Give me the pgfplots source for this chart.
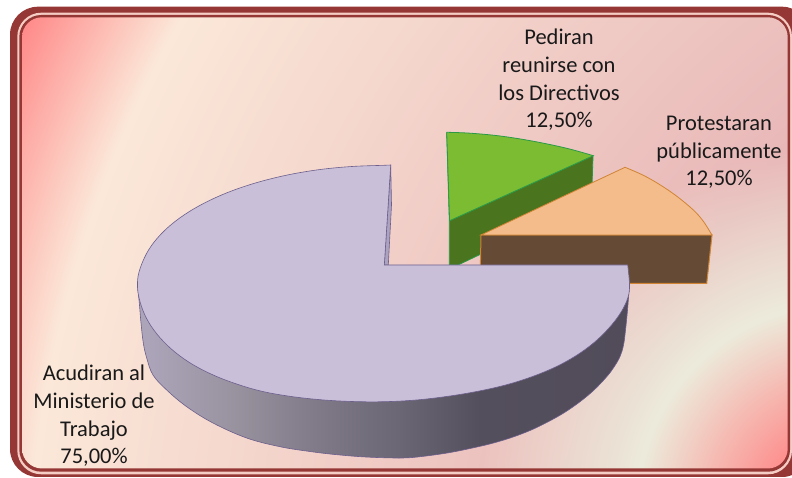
\documentclass[border=0pt]{standalone}
\usepackage{fontspec}
\setmainfont{Carlito}
\usepackage{pgfplots}
\pgfplotsset{compat=1.18}
\definecolor{framered}{HTML}{953735}
\definecolor{framelight}{HTML}{F6CDC4}
\definecolor{purpletop}{HTML}{C9BFD9}
\definecolor{purpleedge}{HTML}{6C5F8C}
\definecolor{purplein}{HTML}{ABA2C0}
\definecolor{greentop}{HTML}{7CBC32}
\definecolor{greenwall}{HTML}{4B741F}
\definecolor{greenedge}{HTML}{2A9A48}
\definecolor{orangetop}{HTML}{F5BC8B}
\definecolor{orangewall}{HTML}{654B36}
\definecolor{orangeedge}{HTML}{D08434}
\definecolor{wa}{HTML}{ACA5BA}
\definecolor{wb}{HTML}{99929F}
\definecolor{wc}{HTML}{7B7584}
\definecolor{wd}{HTML}{6B6774}
\definecolor{we}{HTML}{544F5C}
\definecolor{wf}{HTML}{524C5A}
\pgfdeclarehorizontalshading{wallshade}{100bp}{color(0bp)=(wa);color(26bp)=(wa);color(34.7bp)=(wb);color(44.9bp)=(wc);color(51.4bp)=(wd);color(59.8bp)=(we);color(75bp)=(wf);color(100bp)=(wf)}
\pgfdeclarefunctionalshading{bg}{\pgfpointorigin}{\pgfpoint{792bp}{478bp}}{}{
 2 copy
 -126 sub dup mul exch 1213 sub dup mul add sqrt
 3 1 roll
 -29 sub dup mul exch 840 sub dup mul add sqrt
 1 index 620 sub 567 div dup 0 lt {pop 0} if dup 1 gt {pop 1} if
 1 index 360 exch sub 157 div dup 0 lt {pop 0} if dup 1 gt {pop 1} if
 3 index 1187 sub 140 div dup 0 lt {pop 0} if dup 1 gt {pop 1} if
 3 index 203 exch sub 143 div dup 0 lt {pop 0} if dup 1 gt {pop 1} if
 6 4 roll pop pop
 3 index .075 mul 3 index .015 mul add 2 index .015 mul add 1 index .075 mul add .91 add
 4 index .19 mul 4 index .20 mul add 3 index -.38 mul add 2 index -.39 mul add .72 add
 5 index .13 mul 5 index .14 mul add 4 index -.32 mul add 3 index -.33 mul add .72 add
 7 3 roll pop pop pop pop
}
\begin{document}
\begin{tikzpicture}[x=1bp,y=1bp]
\useasboundingbox (0,0) rectangle (792,478);
\begin{scope}
\clip (0,0) rectangle (792,478);
\fill[framered,rounded corners=28bp] (10,1) rectangle (810,471.3);
\fill[framelight,rounded corners=24bp] (17.3,3.7) rectangle (792,465.3);
\fill[framered,rounded corners=22bp] (19.3,6.3) rectangle (790,463);
\begin{scope}
\clip[rounded corners=20bp] (22,9.5) rectangle (787.7,460.7);
\node[inner sep=0pt,outer sep=0pt,anchor=south west] at (0,0) {\pgfuseshading{bg}};
\end{scope}
\end{scope}
\begin{axis}[at={(0,0)},anchor=south west,width=792bp,height=478bp,scale only axis,
 xmin=0,xmax=792,ymin=0,ymax=478,y dir=reverse,hide axis,clip=true]
% green slice: wall, then top
\addplot[draw=greenedge,fill=greenwall,line width=.8bp,forget plot] coordinates {
 (446.7,132.3)(449.3,220.7)(593,155.7)(591.5,201)(480,254.5)(458,265)(449.3,265)(449.3,220.7)} -- cycle;
\addplot[smooth,tension=.6,draw=greenedge,fill=greentop,line width=.8bp,forget plot] coordinates {
 (446.7,132.3)(470,133.2)(500,136)(533,141.2)(566.7,148.3)(593.3,155.7)} -- (axis cs:449.6,220.7) -- cycle;
% orange slice
\addplot[draw=orangeedge,fill=orangewall,line width=1bp,forget plot] coordinates {
 (481,235)(712,235)(706.7,283.5)(480,283.5)} -- cycle;
\addplot[smooth,tension=.6,draw=orangeedge,fill=orangetop,line width=.8bp,forget plot] coordinates {
 (625,167.3)(643.3,175.3)(660,184.8)(676.7,196.2)(693.3,210)(703.3,221.3)(711.9,235)} -- (axis cs:481,235) -- cycle;
% purple slice: outer wall
\addplot[smooth,tension=.6,draw=purpleedge,shading=wallshade,line width=.6bp,forget plot] coordinates {
 (137.7,287)(139.3,303)(141,323)(143.3,343)(146.7,358)(153,375)(166.7,390)(186.7,406.7)(213,423)(246.7,438)(280,446.7)
 (310,451.5)(335,454.5)(366,457)(400,458)(420,456.7)(450,452.5)(480,446.3)(497,442)(513,437)(530,430.5)(546.7,422.5)(564,412.8)
 (580,401.7)(594,390)(606.7,376.7)(614,367)(620,356.5)(623.5,345)(625.5,330)(627.5,310)(629.3,287)} -- cycle;
% purple slice: inner wall of the gap
\addplot[draw=purpleedge,fill=purplein,line width=.6bp,forget plot] coordinates {
 (390.7,165)(391.5,205)(388.3,265)(384.3,265)} -- cycle;
% purple slice: top
\addplot[smooth,tension=.6,draw=purpleedge,fill=purpletop,line width=.6bp,forget plot] coordinates {
 (390.7,165)(384,165.3)(351.9,166.5)(320.3,169.5)(289.9,174.5)(261,181.4)(234.2,190)(210.1,200.2)(188.8,211.9)(171,224.75)(156.7,238.9)(146.4,253.8)(139,272)(137.5,287)
 (140.1,302)(146.4,318.2)(156.7,333.8)(171,348.75)(188.8,362.1)(210.1,373.6)(234.2,383.2)(261,391.1)(289.9,396.3)(320.3,399.7)(351.9,401.5)(384,401.7)(416.1,400)(447.7,396.3)(478.1,391.2)
 (507,384.6)(533.8,376)(557.9,365.8)(579.2,353.6)(597,340)(611.3,325.3)(621.6,311.2)(627.9,297.5)(629.5,285)(627.7,265)} -- (axis cs:384.3,265) -- cycle;
\end{axis}
\begin{scope}[every node/.style={inner sep=0pt,outer sep=0pt,align=center,text=black!90,font=\fontsize{22.5bp}{27.7bp}\selectfont}]
\node[anchor=base] at (559,350) {Pediran\\reunirse con\\los Directivos\\12,50\%};
\node[anchor=base] at (719,292) {Protestaran\\públicamente\\12,50\%};
\node[anchor=base] at (94,14) {Acudiran al\\Ministerio de\\Trabajo\\75,00\%};
\end{scope}
\end{tikzpicture}
\end{document}
